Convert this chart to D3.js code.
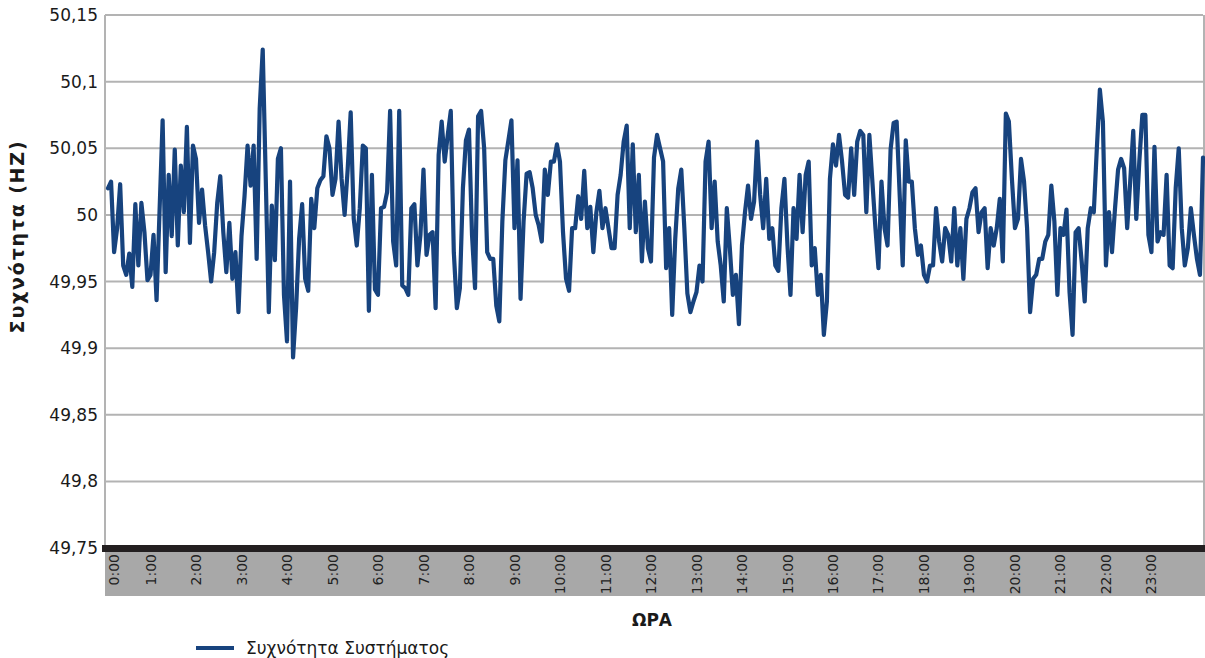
<!DOCTYPE html>
<html>
<head>
<meta charset="utf-8">
<script src="https://cdn.jsdelivr.net/npm/d3@7"></script>
<style>
  html, body { margin: 0; padding: 0; background: #ffffff; }
  svg { display: block; }
  text { font-family: "DejaVu Sans", "Noto Sans", sans-serif; fill: #1a1a1a; }
</style>
</head>
<body>
<svg id="chart" width="1205" height="658"></svg>
<script>
// ---- data ----
const startMinute = 4;        // first sample time (minutes after 0:00)
const stepMinutes = 4;        // sampling interval
const frequency = [
50.020,50.025,49.972,49.990,50.023,49.962,49.955,49.971,49.946,50.008,
49.962,50.009,49.987,49.951,49.955,49.985,49.936,50.004,50.071,49.957,
50.030,49.984,50.049,49.977,50.037,50.002,50.066,49.979,50.052,50.042,
49.994,50.019,49.992,49.972,49.950,49.972,50.009,50.029,49.987,49.957,
49.994,49.952,49.972,49.927,49.984,50.014,50.052,50.022,50.052,49.967,
50.080,50.124,50.027,49.927,50.007,49.966,50.042,50.050,49.940,49.905,
50.025,49.893,49.930,49.982,50.008,49.952,49.943,50.012,49.990,50.020,
50.026,50.029,50.059,50.050,50.015,50.027,50.070,50.027,50.000,50.034,
50.077,49.997,49.977,50.005,50.052,50.050,49.928,50.030,49.944,49.940,
50.005,50.006,50.017,50.078,49.980,49.962,50.078,49.947,49.945,49.940,
50.005,50.008,49.962,49.985,50.034,49.970,49.985,49.987,49.930,50.045,
50.070,50.040,50.060,50.078,49.972,49.930,49.945,50.020,50.056,50.064,
49.985,49.945,50.074,50.078,50.050,49.972,49.967,49.967,49.932,49.920,
49.995,50.041,50.056,50.071,49.990,50.041,49.937,49.995,50.031,50.032,
50.020,50.000,49.992,49.980,50.034,50.015,50.040,50.040,50.053,50.040,
49.987,49.952,49.943,49.990,49.990,50.014,49.997,50.033,49.990,50.006,
49.972,50.002,50.018,49.990,50.005,49.990,49.975,49.975,50.015,50.030,
50.055,50.067,49.990,50.053,49.987,50.030,49.965,50.010,49.975,49.965,
50.043,50.060,50.050,50.040,49.960,49.990,49.925,49.982,50.020,50.034,
49.990,49.941,49.927,49.935,49.942,49.962,49.950,50.040,50.055,49.990,
50.025,49.980,49.962,49.935,50.005,49.975,49.940,49.955,49.918,49.977,
50.002,50.022,49.997,50.010,50.055,50.015,49.990,50.027,49.982,49.990,
49.962,49.958,50.005,50.027,49.977,49.940,50.005,49.982,50.030,49.987,
50.030,50.040,49.962,49.975,49.940,49.955,49.910,49.935,50.027,50.053,
50.037,50.060,50.040,50.015,50.013,50.050,50.015,50.055,50.063,50.060,
50.002,50.060,50.025,49.990,49.960,50.025,49.990,49.977,50.049,50.069,
50.070,50.015,49.962,50.056,50.025,50.025,49.990,49.970,49.977,49.955,
49.950,49.962,49.962,50.005,49.980,49.965,49.990,49.985,49.965,50.005,
49.962,49.990,49.952,49.997,50.005,50.017,50.020,49.987,50.002,50.005,
49.960,49.990,49.977,49.990,50.012,49.965,50.076,50.070,50.027,49.990,
49.997,50.042,50.025,49.990,49.927,49.952,49.955,49.967,49.967,49.980,
49.985,50.022,49.995,49.940,49.990,49.985,50.004,49.942,49.910,49.987,
49.990,49.965,49.935,49.990,50.005,50.002,50.050,50.094,50.070,49.962,
50.002,49.972,50.005,50.034,50.042,50.035,49.990,50.025,50.063,49.997,
50.040,50.075,50.075,49.985,49.972,50.051,49.980,49.987,49.985,50.030,
49.962,49.960,50.020,50.050,49.990,49.962,49.975,50.005,49.985,49.967,
49.955,50.043
];
const hourLabels = ["0:00","1:00","2:00","3:00","4:00","5:00","6:00","7:00","8:00","9:00","10:00","11:00",
                    "12:00","13:00","14:00","15:00","16:00","17:00","18:00","19:00","20:00","21:00","22:00","23:00"];
const yTicks = [49.75, 49.8, 49.85, 49.9, 49.95, 50, 50.05, 50.1, 50.15];
const seriesName = "Συχνότητα Συστήματος";
const yTitle = "Συχνότητα (HZ)";
const xTitle = "ΩΡΑ";

// ---- layout ----
const mL = 105, mR = 1203, mT = 15, mB = 548;
const svg = d3.select("#chart");
const points = frequency.map((v, i) => ({ t: startMinute + i * stepMinutes, v }));
const lastT = points[points.length - 1].t;

const x = d3.scaleLinear().domain([0, lastT]).range([mL, mR]);
const y = d3.scaleLinear().domain([49.75, 50.15]).range([mB, mT]);
const fmt = d3.formatLocale({ decimal: ",", thousands: ".", grouping: [3], currency: ["", "€"] }).format("~r");

// gridlines
svg.append("g").selectAll("line").data(yTicks.filter(d => d > 49.75)).join("line")
  .attr("x1", mL).attr("x2", mR)
  .attr("y1", d => y(d)).attr("y2", d => y(d))
  .attr("stroke", "#b3b3b3").attr("stroke-width", 2);

// left axis line and right border
svg.append("line").attr("x1", mL).attr("x2", mL).attr("y1", mT).attr("y2", mB)
  .attr("stroke", "#b3b3b3").attr("stroke-width", 2);
svg.append("line").attr("x1", mR + 1).attr("x2", mR + 1).attr("y1", mT).attr("y2", mB)
  .attr("stroke", "#b3b3b3").attr("stroke-width", 2);

// gray category band
svg.append("rect").attr("x", mL).attr("y", mB + 3).attr("width", mR - mL + 2).attr("height", 45)
  .attr("fill", "#a8a8a8");
// dark axis bar
svg.append("rect").attr("x", mL - 3).attr("y", mB - 3).attr("width", mR - mL + 5).attr("height", 7)
  .attr("fill", "#231f20");

// y tick labels
svg.append("g").selectAll("text").data(yTicks).join("text")
  .attr("x", mL - 7).attr("y", d => y(d)).attr("dy", "0.36em")
  .attr("text-anchor", "end").style("font-size", "17px")
  .text(d => fmt(d));

// x hour labels (rotated)
svg.append("g").selectAll("text").data(hourLabels).join("text")
  .attr("transform", (d, i) => {
    const px = Math.max(x(i * 60), mL + 9);
    return `translate(${px},${mB + 6}) rotate(-90)`;
  })
  .attr("dy", "0.36em").attr("text-anchor", "end").style("font-size", "14px")
  .style("fill", "#222")
  .text(d => d);

// line
const line = d3.line().x(d => x(d.t)).y(d => y(d.v));
svg.append("path").datum(points)
  .attr("d", line).attr("fill", "none")
  .attr("stroke", "#17437e").attr("stroke-width", 4.2)
  .attr("stroke-linejoin", "round").attr("stroke-linecap", "round");

// axis titles
svg.append("text").attr("transform", `translate(24,${(mT + mB) / 2 - 45}) rotate(-90)`)
  .attr("text-anchor", "middle").style("font-size", "19px").style("font-weight", "bold")
  .style("letter-spacing", "1.8px")
  .text(yTitle);
svg.append("text").attr("x", 652).attr("y", 626).attr("text-anchor", "middle")
  .style("font-size", "17px").style("font-weight", "bold").text(xTitle);

// legend
const lg = svg.append("g").attr("transform", "translate(196,648)");
lg.append("line").attr("x1", 0).attr("x2", 38).attr("y1", 0).attr("y2", 0)
  .attr("stroke", "#17437e").attr("stroke-width", 4);
lg.append("text").attr("x", 50).attr("y", 0).attr("dy", "0.36em")
  .style("font-size", "17px").text(seriesName);
</script>
</body>
</html>
